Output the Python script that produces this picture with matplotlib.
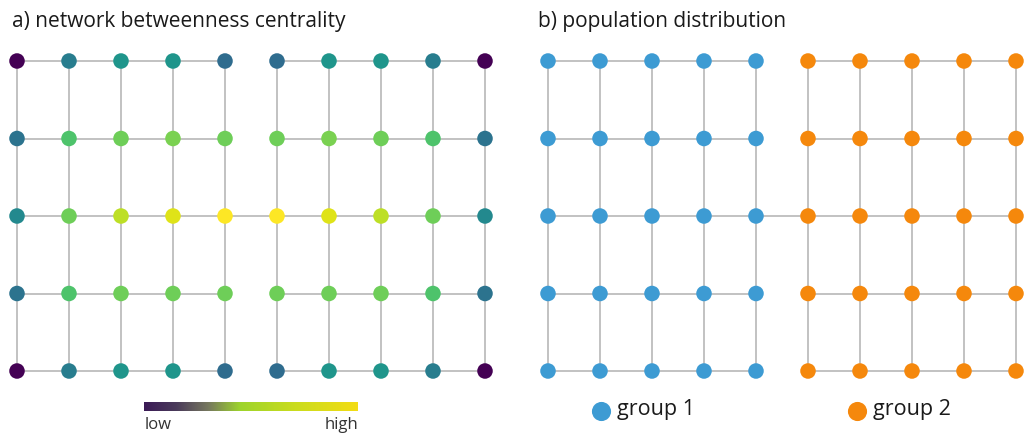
import matplotlib
matplotlib.use("Agg")
import matplotlib.pyplot as plt
import numpy as np
from matplotlib.colors import LinearSegmentedColormap

plt.rcParams['font.family'] = ['Open Sans', 'DejaVu Sans']

# ---- data ----
n_rows = 5
n_cols = 10
centrality = [
    [0.00, 0.42, 0.52, 0.52, 0.35, 0.35, 0.52, 0.52, 0.42, 0.00],
    [0.38, 0.72, 0.78, 0.80, 0.78, 0.78, 0.80, 0.78, 0.72, 0.38],
    [0.47, 0.78, 0.90, 0.95, 1.00, 1.00, 0.95, 0.90, 0.78, 0.47],
    [0.38, 0.72, 0.78, 0.78, 0.78, 0.78, 0.78, 0.78, 0.72, 0.38],
    [0.00, 0.42, 0.52, 0.52, 0.35, 0.35, 0.52, 0.52, 0.42, 0.00],
]
group = [[1] * 5 + [2] * 5 for _ in range(n_rows)]
group_labels = ["group 1", "group 2"]
group_colors = {1: "#3d9bd3", 2: "#f5880c"}
titles = ["a) network betweenness centrality", "b) population distribution"]
cbar_labels = ["low", "high"]
bridge_row = 2

W, H = 1025, 437
fig = plt.figure(figsize=(W / 100, H / 100), dpi=100)

def px_axes(left, top, width, height):
    return fig.add_axes([left / W, 1 - (top + height) / H, width / W, height / H])

# edges of the two 5x5 lattices plus the bridge
edges = []
for r in range(n_rows):
    for c in range(n_cols - 1):
        if c != 4 or r == bridge_row:
            edges.append(((r, c), (r, c + 1)))
for c in range(n_cols):
    for r in range(n_rows - 1):
        edges.append(((r, c), (r + 1, c)))

rows, cols = np.meshgrid(np.arange(n_rows), np.arange(n_cols), indexing="ij")
cent = np.array(centrality)
grp = np.array(group)

def draw_network(ax, colors):
    for (r0, c0), (r1, c1) in edges:
        ax.plot([c0, c1], [r0, r1], color="#bdbdbd", lw=1.3, zorder=1, clip_on=False)
    ax.scatter(cols.ravel(), rows.ravel(), s=125, c=colors, zorder=2,
               linewidths=0, clip_on=False)
    ax.set_xlim(0, n_cols - 1)
    ax.set_ylim(n_rows - 1, 0)
    ax.axis("off")

axL = px_axes(17, 61, 468, 310)
vir = plt.get_cmap("viridis")
draw_network(axL, [vir(v) for v in cent.ravel()])

axR = px_axes(548, 61, 468, 310)
draw_network(axR, [group_colors[g] for g in grp.ravel()])

# titles
fig.text(12 / W, 1 - 21 / H, titles[0], fontsize=15, va="center", ha="left", color="#1a1a1a")
fig.text(538 / W, 1 - 21 / H, titles[1], fontsize=15, va="center", ha="left", color="#1a1a1a")

# colour bar
cbar_cmap = LinearSegmentedColormap.from_list(
    "cb", [(0.0, "#3b1a56"), (0.15, "#4a3a5a"), (0.30, "#76785e"),
           (0.45, "#9dd42c"), (0.70, "#c9dc1e"), (1.0, "#f3dc14")])
cax = px_axes(144, 402, 214, 9)
cax.imshow(np.linspace(0, 1, 256)[None, :], aspect="auto", cmap=cbar_cmap,
           extent=[0, 1, 0, 1])
cax.axis("off")
fig.text(145 / W, 1 - 425 / H, cbar_labels[0], fontsize=12, va="center", ha="left", color="#333333")
fig.text(358 / W, 1 - 425 / H, cbar_labels[1], fontsize=12, va="center", ha="right", color="#333333")

# legend for groups
lax = px_axes(0, 380, W, 57)
lax.set_xlim(0, W)
lax.set_ylim(57, 0)
lax.axis("off")
leg_x = [601, 857]
for gx, g, lab in zip(leg_x, [1, 2], group_labels):
    lax.scatter([gx], [31], s=190, c=group_colors[g], linewidths=0, clip_on=False)
    lax.text(gx + 16, 30, lab, fontsize=15.5, va="center", ha="left", color="#1a1a1a")

fig.savefig("out.png", dpi=100)
